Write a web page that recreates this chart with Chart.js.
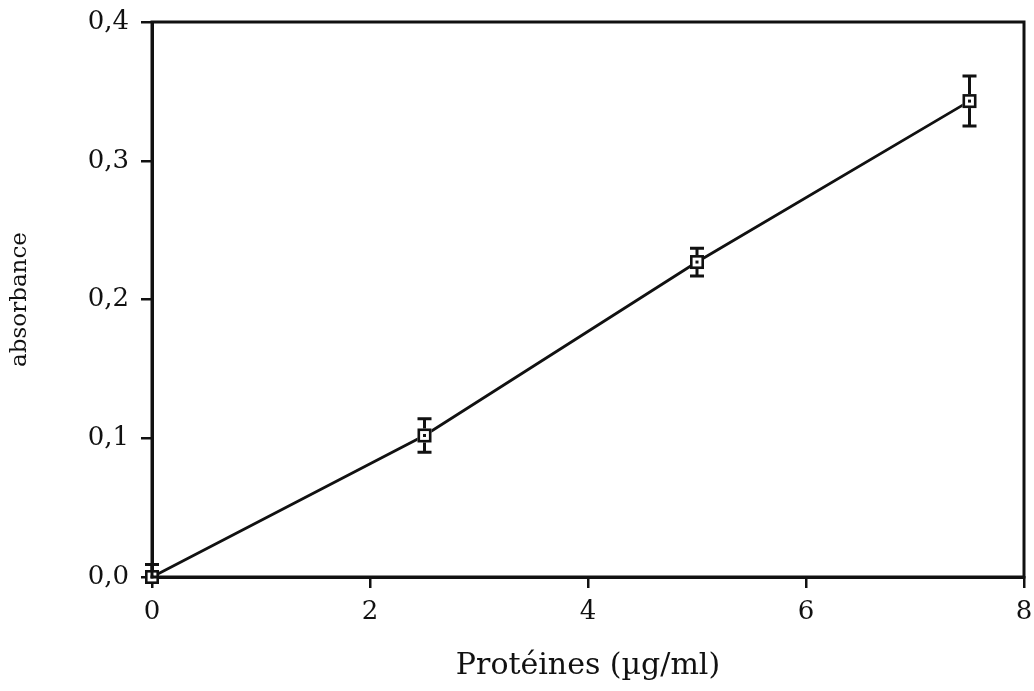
<!DOCTYPE html>
<html>
<head>
<meta charset="utf-8">
<script src="https://cdn.jsdelivr.net/npm/chart.js@4.4.1/dist/chart.umd.min.js"></script>
<style>
  html, body { margin: 0; padding: 0; background: #fff; }
  #wrap { width: 1034px; height: 691px; }
</style>
</head>
<body>
<div id="wrap"><canvas id="c" width="1034" height="691"></canvas></div>
<script>
const proteins = [0, 2.5, 5, 7.5];
const absorbance = [0.0, 0.102, 0.227, 0.343];
const errors = [0.009, 0.012, 0.010, 0.018];
const xTicks = [0, 2, 4, 6, 8];
const yTicks = [0.0, 0.1, 0.2, 0.3, 0.4];
const xTitle = 'Protéines (µg/ml)';
const yTitle = 'absorbance';

const INK = '#111';
const FONT = "'DejaVu Serif', serif";

const frameAndErrors = {
  id: 'frameAndErrors',
  afterDatasetsDraw(chart) {
    const { ctx, chartArea: a, scales: { x, y } } = chart;
    ctx.save();
    ctx.strokeStyle = INK;
    ctx.lineWidth = 3;
    ctx.lineCap = 'butt';
    proteins.forEach((p, i) => {
      const px = x.getPixelForValue(p);
      const top = y.getPixelForValue(absorbance[i] + errors[i]);
      const bot = y.getPixelForValue(Math.max(0, absorbance[i] - errors[i]));
      const cy = y.getPixelForValue(absorbance[i]);
      ctx.beginPath();
      ctx.moveTo(px, top); ctx.lineTo(px, cy - 6);
      ctx.moveTo(px, cy + 6); ctx.lineTo(px, bot);
      ctx.moveTo(px - 7, top); ctx.lineTo(px + 7, top);
      if (absorbance[i] - errors[i] > 0) { ctx.moveTo(px - 7, bot); ctx.lineTo(px + 7, bot); }
      ctx.stroke();
      ctx.fillStyle = '#fff';
      ctx.fillRect(px - 7, cy - 7, 14, 14);
      ctx.lineWidth = 2.6;
      ctx.strokeRect(px - 5.7, cy - 5.7, 11.4, 11.4);
      ctx.fillStyle = INK;
      ctx.fillRect(px - 1.5, cy - 1.5, 3, 3);
      ctx.lineWidth = 3;
    });
    ctx.lineWidth = 3;
    ctx.strokeRect(a.left, a.top, a.right - a.left, a.bottom - a.top);
    ctx.restore();
  }
};

new Chart(document.getElementById('c'), {
  type: 'scatter',
  data: {
    datasets: [{
      data: proteins.map((p, i) => ({ x: p, y: absorbance[i] })),
      showLine: true,
      borderColor: INK,
      borderWidth: 2.8,
      pointRadius: 0,
      tension: 0,
      clip: false
    }]
  },
  options: {
    responsive: false,
    animation: false,
    devicePixelRatio: 1,
    layout: { padding: { left: 0, right: 10, top: 22, bottom: 0 } },
    plugins: { legend: { display: false }, tooltip: { enabled: false } },
    scales: {
      x: {
        type: 'linear', min: 0, max: 8,
        afterBuildTicks: s => { s.ticks = xTicks.map(v => ({ value: v })); },
        afterFit: s => { s.height = 114; s.paddingLeft = 0; s.paddingRight = 0; },
        ticks: { color: INK, font: { family: FONT, size: 26 }, padding: 9, maxRotation: 0 },
        grid: { drawOnChartArea: false, drawTicks: true, tickLength: 11, color: INK, lineWidth: 2.5 },
        border: { display: true, color: INK, width: 3 },
        title: { display: true, text: xTitle, color: INK, font: { family: FONT, size: 30 }, padding: { top: 0, bottom: 7 } }
      },
      y: {
        type: 'linear', min: 0, max: 0.4,
        afterBuildTicks: s => { s.ticks = yTicks.map(v => ({ value: v })); },
        afterFit: s => { s.width = 152; s.paddingTop = 0; s.paddingBottom = 0; },
        ticks: { color: INK, font: { family: FONT, size: 26 }, padding: 12,
                 callback: v => v.toFixed(1).replace('.', ',') },
        grid: { drawOnChartArea: false, drawTicks: true, tickLength: 11, color: INK, lineWidth: 2.5 },
        border: { display: true, color: INK, width: 3 },
        title: { display: true, text: yTitle, color: INK, font: { family: FONT, size: 23 }, padding: { top: 6, bottom: 0 } }
      }
    }
  },
  plugins: [frameAndErrors]
});
</script>
</body>
</html>
